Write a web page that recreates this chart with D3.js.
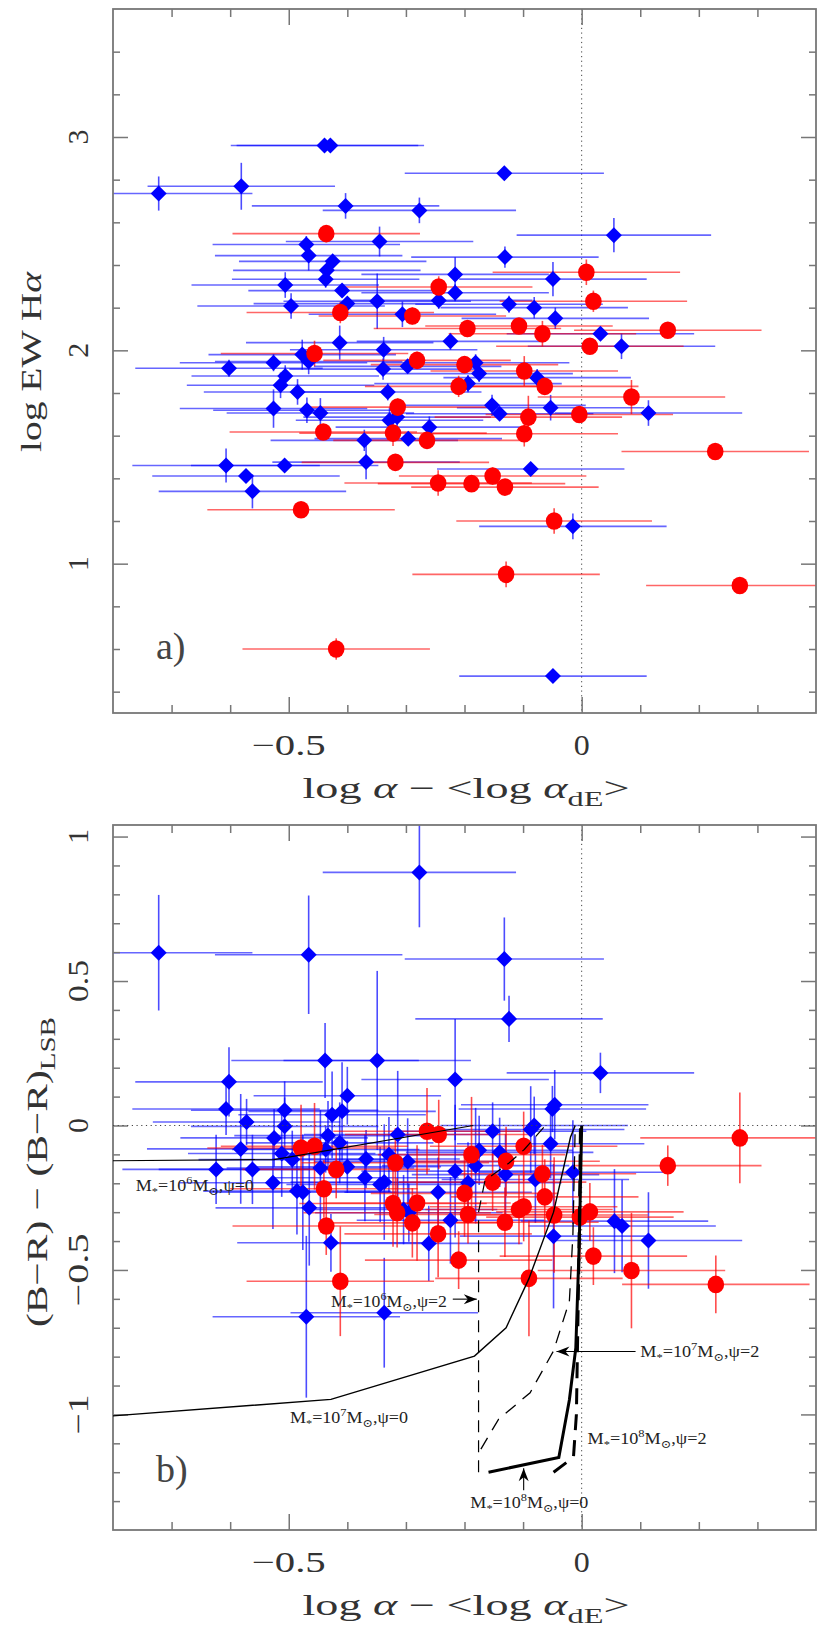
<!DOCTYPE html>
<html><head><meta charset="utf-8">
<script src="https://cdn.jsdelivr.net/npm/d3@7"></script>
<style>body{margin:0;background:#fff}</style>
</head><body><svg id="c" width="830" height="1639"></svg>
<script>
// ---------- DATA: [x, y, xerr, yerr] ----------
const topBlue = [
[-0.439,2.960,0.16,0.02],[-0.429,2.960,0.16,0.02],[-0.722,2.735,0.16,0.08],[-0.581,2.769,0.16,0.11],
[-0.403,2.677,0.16,0.06],[-0.277,2.656,0.165,0.06],[-0.132,2.830,0.17,0.03],[0.055,2.540,0.166,0.08],
[-0.131,2.437,0.16,0.05],[-0.345,2.510,0.16,0.07],[-0.470,2.496,0.16,0.04],[-0.466,2.444,0.16,0.07],
[-0.425,2.417,0.16,0.03],[-0.435,2.375,0.16,0.03],[-0.437,2.333,0.16,0.04],[-0.506,2.306,0.16,0.06],
[-0.409,2.280,0.16,0.03],[-0.496,2.208,0.16,0.06],[-0.400,2.219,0.16,0.03],[-0.349,2.230,0.16,0.13],
[-0.306,2.169,0.16,0.06],[-0.216,2.356,0.16,0.08],[-0.216,2.270,0.16,0.04],[-0.244,2.234,0.16,0.04],
[-0.224,2.042,0.16,0.04],[-0.413,2.036,0.16,0.08],[-0.477,1.980,0.16,0.07],[-0.466,1.948,0.16,0.06],
[-0.338,2.003,0.16,0.06],[-0.339,1.912,0.16,0.05],[-0.297,1.925,0.16,0.03],[-0.526,1.942,0.16,0.04],
[-0.602,1.916,0.16,0.04],[-0.506,1.880,0.16,0.05],[-0.514,1.836,0.16,0.06],[-0.485,1.805,0.16,0.06],
[-0.331,1.805,0.16,0.04],[-0.194,1.844,0.16,0.04],[-0.049,2.334,0.16,0.08],[-0.124,2.216,0.16,0.04],
[-0.081,2.200,0.16,0.05],[-0.045,2.150,0.16,0.05],[0.032,2.078,0.16,0.03],[0.068,2.019,0.16,0.06],
[-0.181,1.942,0.16,0.04],[-0.175,1.891,0.16,0.04],[-0.076,1.872,0.16,0.04],[-0.526,1.727,0.16,0.09],
[-0.469,1.719,0.16,0.06],[-0.446,1.706,0.16,0.07],[-0.328,1.672,0.16,0.06],[-0.315,1.687,0.16,0.05],
[-0.260,1.640,0.16,0.05],[-0.371,1.578,0.16,0.05],[-0.296,1.586,0.16,0.03],[-0.368,1.476,0.16,0.08],
[-0.607,1.460,0.16,0.08],[-0.507,1.460,0.16,0.02],[-0.573,1.411,0.16,0.03],[-0.562,1.339,0.16,0.08],
[-0.153,1.742,0.16,0.05],[-0.140,1.703,0.16,0.03],[-0.053,1.731,0.16,0.06],[0.114,1.706,0.16,0.06],
[-0.087,1.444,0.16,0.03],[-0.015,1.175,0.16,0.06],[-0.049,0.473,0.16,0.02]
];
const topRed = [
[-0.436,2.547,0.16,0.04],[-0.244,2.297,0.16,0.05],[-0.412,2.177,0.16,0.05],[-0.289,2.161,0.16,0.04],
[-0.195,2.102,0.16,0.04],[-0.456,1.985,0.16,0.06],[-0.281,1.953,0.16,0.04],[-0.200,1.933,0.16,0.03],
[-0.210,1.831,0.16,0.05],[0.008,2.366,0.16,0.06],[0.020,2.230,0.16,0.05],[-0.107,2.114,0.16,0.03],
[-0.067,2.078,0.16,0.06],[0.147,2.094,0.16,0.03],[0.014,2.019,0.16,0.03],[-0.098,1.903,0.16,0.07],
[-0.063,1.831,0.16,0.04],[0.085,1.781,0.16,0.08],[-0.314,1.734,0.16,0.04],[-0.441,1.617,0.16,0.03],
[-0.322,1.612,0.16,0.06],[-0.264,1.578,0.16,0.04],[-0.318,1.475,0.16,0.03],[-0.245,1.378,0.16,0.06],
[-0.188,1.375,0.16,0.03],[-0.479,1.253,0.16,0.03],[-0.419,0.600,0.16,0.05],[-0.091,1.687,0.16,0.10],
[-0.004,1.699,0.16,0.03],[-0.098,1.609,0.16,0.06],[0.228,1.526,0.16,0.03],[-0.152,1.411,0.16,0.04],
[-0.131,1.359,0.16,0.03],[-0.047,1.200,0.167,0.06],[-0.129,0.950,0.16,0.06],[0.270,0.898,0.16,0.04]
];
const botBlue = [
[-0.277,0.876,0.165,0.19],[-0.722,0.598,0.16,0.20],[-0.466,0.591,0.16,0.205],[-0.132,0.576,0.17,0.144],
[-0.124,0.369,0.16,0.08],[-0.438,0.225,0.16,0.13],[-0.349,0.225,0.16,0.31],[0.032,0.182,0.16,0.07],
[-0.216,0.159,0.16,0.21],[-0.602,0.151,0.16,0.12],[-0.400,0.103,0.16,0.10],[-0.607,0.057,0.16,0.09],
[-0.507,0.053,0.16,0.10],[-0.426,0.037,0.16,0.15],[-0.409,0.049,0.16,0.17],[-0.572,0.012,0.16,0.08],
[-0.507,-0.003,0.16,0.10],[-0.525,-0.043,0.16,0.10],[-0.433,-0.035,0.16,0.12],[-0.413,-0.060,0.16,0.14],
[-0.314,-0.031,0.16,0.22],[-0.582,-0.081,0.16,0.19],[-0.512,-0.097,0.16,0.15],[-0.494,-0.118,0.16,0.10],
[-0.437,-0.083,0.16,0.08],[-0.368,-0.116,0.16,0.10],[-0.329,-0.101,0.16,0.13],[-0.297,-0.125,0.16,0.15],
[-0.624,-0.152,0.16,0.12],[-0.562,-0.152,0.16,0.12],[-0.446,-0.147,0.16,0.20],[-0.400,-0.143,0.16,0.09],
[-0.370,-0.181,0.16,0.15],[-0.527,-0.198,0.16,0.16],[-0.486,-0.227,0.16,0.15],[-0.476,-0.231,0.16,0.20],
[-0.344,-0.204,0.16,0.13],[-0.337,-0.196,0.16,0.20],[-0.245,-0.231,0.16,0.12],[-0.216,-0.158,0.16,0.23],
[-0.194,-0.198,0.16,0.14],[-0.465,-0.285,0.16,0.20],[-0.304,-0.291,0.16,0.12],[-0.295,-0.302,0.16,0.10],
[-0.224,-0.328,0.16,0.15],[-0.428,-0.406,0.16,0.10],[-0.261,-0.408,0.16,0.13],[-0.470,-0.662,0.16,0.28],
[-0.337,-0.648,0.16,0.19],[-0.046,0.072,0.16,0.12],[-0.050,0.057,0.16,0.08],[-0.152,-0.020,0.16,0.10],
[-0.087,-0.014,0.16,0.15],[-0.081,0.000,0.16,0.10],[-0.053,-0.063,0.16,0.12],[-0.175,-0.086,0.16,0.12],
[-0.140,-0.093,0.16,0.12],[-0.181,-0.139,0.16,0.20],[-0.130,-0.170,0.16,0.14],[-0.079,-0.187,0.16,0.15],
[-0.015,-0.162,0.16,0.18],[0.056,-0.331,0.16,0.18],[0.069,-0.348,0.16,0.16],[0.114,-0.398,0.16,0.167],
[-0.048,-0.383,0.16,0.25]
];
const botRed = [
[0.270,-0.043,0.17,0.157],[0.147,-0.139,0.16,0.07],[-0.264,-0.020,0.16,0.15],[-0.244,-0.031,0.16,0.12],
[-0.479,-0.078,0.16,0.15],[-0.456,-0.072,0.16,0.15],[-0.188,-0.101,0.16,0.20],[-0.318,-0.129,0.16,0.12],
[-0.419,-0.152,0.16,0.10],[-0.440,-0.219,0.16,0.10],[-0.200,-0.235,0.16,0.15],[-0.322,-0.270,0.16,0.15],
[-0.281,-0.268,0.16,0.20],[-0.315,-0.302,0.16,0.12],[-0.289,-0.337,0.16,0.12],[-0.194,-0.308,0.16,0.10],
[-0.436,-0.348,0.16,0.10],[-0.245,-0.375,0.16,0.15],[-0.210,-0.466,0.16,0.10],[-0.412,-0.539,0.16,0.19],
[-0.099,-0.072,0.16,0.12],[-0.129,-0.124,0.16,0.12],[-0.067,-0.167,0.16,0.10],[-0.152,-0.196,0.16,0.10],
[-0.063,-0.247,0.16,0.13],[-0.099,-0.281,0.16,0.12],[-0.107,-0.291,0.16,0.12],[-0.047,-0.310,0.16,0.20],
[0.014,-0.299,0.16,0.10],[-0.003,-0.317,0.16,0.15],[-0.131,-0.335,0.16,0.12],[0.020,-0.452,0.16,0.10],
[0.085,-0.502,0.16,0.20],[-0.090,-0.529,0.16,0.20],[0.229,-0.550,0.16,0.10]
];
// model tracks (panel b)
const mod6psi0 = [[-0.8,-0.122],[-0.525,-0.118],[-0.185,0.0]];
const mod6psi2 = [[-0.176,-1.2],[-0.176,-0.30],[-0.165,-0.19],[-0.124,-0.13],[-0.098,-0.083],[-0.062,0.0]];
const mod7psi0 = [[-0.8,-1.005],[-0.428,-0.948],[-0.183,-0.798],[-0.129,-0.70],[-0.09,-0.53],[-0.048,-0.30],[-0.019,-0.04],[-0.011,0.0]];
const mod7psi2 = [[-0.172,-1.12],[-0.142,-1.017],[-0.088,-0.925],[-0.048,-0.78],[-0.021,-0.608],[-0.015,-0.38],[-0.011,0.0]];
const mod8psi0 = [[-0.159,-1.2],[-0.039,-1.149],[-0.021,-0.95],[-0.010,-0.77],[-0.004,-0.40],[0.0,0.0]];
const mod8psi2 = [[-0.048,-1.2],[-0.014,-1.148],[-0.009,-1.0],[-0.005,-0.5],[-0.002,0.0]];
// ticks
const xMajor = [-0.5, 0];
const xMinor = [-0.7,-0.6,-0.4,-0.3,-0.2,-0.1,0.1,0.2,0.3];
const yAMajor = [1,2,3];
const yAMinor = [0.4,0.6,0.8,1.2,1.4,1.6,1.8,2.2,2.4,2.6,2.8,3.2,3.4];
const yBMajor = [-1,-0.5,0,0.5,1];
const yBMinor = [-1.3,-1.2,-1.1,-0.9,-0.8,-0.7,-0.6,-0.4,-0.3,-0.2,-0.1,0.1,0.2,0.3,0.4,0.6,0.7,0.8,0.9];

// ---------- DRAW ----------
const svg = d3.select("#c");
const x = d3.scaleLinear().domain([-0.8,0.4]).range([113,816]);
const yA = d3.scaleLinear().domain([0.3,3.6]).range([713,9]);
const yB = d3.scaleLinear().domain([-1.4,1.04]).range([1530,825]);
const FONT = "'Liberation Serif','DejaVu Serif',serif";
const TXT = "#333";
const fmt = v => (v<0?"\u2212":"") + Math.abs(v);

function panel(y, yMaj, yMin, blue, red, tag){
  const g = svg.append("g");
  const [yb, yt] = y.range();
  const cp = "clip"+tag;
  svg.append("clipPath").attr("id",cp).append("rect")
    .attr("x",x.range()[0]).attr("y",yt).attr("width",x.range()[1]-x.range()[0]).attr("height",yb-yt);
  // dotted x=0
  g.append("line").attr("x1",x(0)).attr("x2",x(0)).attr("y1",yt).attr("y2",yb)
    .attr("stroke","#444").attr("stroke-width",1).attr("stroke-dasharray","1.2,3.5");
  const d = g.append("g").attr("clip-path",`url(#${cp})`);
  const bars = (data,col)=>{
    d.selectAll(null).data(data).enter().append("line")
      .attr("x1",p=>x(p[0]-p[2])).attr("x2",p=>x(p[0]+p[2])).attr("y1",p=>y(p[1])).attr("y2",p=>y(p[1]))
      .attr("stroke",col).attr("stroke-width",1.6).attr("stroke-opacity",0.6);
    d.selectAll(null).data(data).enter().append("line")
      .attr("x1",p=>x(p[0])).attr("x2",p=>x(p[0])).attr("y1",p=>y(p[1]-p[3])).attr("y2",p=>y(p[1]+p[3]))
      .attr("stroke",col).attr("stroke-width",1.6).attr("stroke-opacity",0.7);
  };
  bars(blue,"#0000ff"); bars(red,"#ff0000");
  const diamond = d3.symbol(d3.symbolSquare,128);
  d.selectAll(null).data(blue).enter().append("path").attr("d",diamond)
    .attr("transform",p=>`translate(${x(p[0])},${y(p[1])}) rotate(45)`).attr("fill","#0000ff");
  d.selectAll(null).data(red).enter().append("ellipse")
    .attr("cx",p=>x(p[0])).attr("cy",p=>y(p[1])).attr("rx",8.3).attr("ry",8.8).attr("fill","#ff0000");
  // frame + ticks
  const ax = svg.append("g").attr("stroke","#777");
  const tk = (gen, vals, len, tr)=>{
    const a = svg.append("g").attr("transform",tr).call(gen.tickValues(vals).tickSize(-len).tickFormat(""));
    a.select(".domain").remove();
    a.selectAll(".tick line").attr("stroke","#777").attr("stroke-width",1.5);
  };
  tk(d3.axisBottom(x), xMajor, 16, `translate(0,${yb})`);
  tk(d3.axisBottom(x), xMinor, 8, `translate(0,${yb})`);
  tk(d3.axisTop(x), xMajor, 16, `translate(0,${yt})`);
  tk(d3.axisTop(x), xMinor, 8, `translate(0,${yt})`);
  tk(d3.axisLeft(y), yMaj, 15, `translate(${x.range()[0]},0)`);
  tk(d3.axisLeft(y), yMin, 7, `translate(${x.range()[0]},0)`);
  tk(d3.axisRight(y), yMaj, 15, `translate(${x.range()[1]},0)`);
  tk(d3.axisRight(y), yMin, 7, `translate(${x.range()[1]},0)`);
  ax.append("rect").attr("x",x.range()[0]).attr("y",yt).attr("width",x.range()[1]-x.range()[0]).attr("height",yb-yt)
    .attr("fill","none").attr("stroke-width",1.8);
  // tick labels
  svg.append("g").selectAll(null).data(xMajor).enter().append("text")
    .attr("x",v=>x(v)).attr("y",yb+42).attr("text-anchor","middle")
    .attr("font-family",FONT).attr("font-size",29).attr("fill",TXT)
    .attr("textLength",v=>v===0?16:74).attr("lengthAdjust","spacingAndGlyphs").text(fmt);
  svg.append("g").selectAll(null).data(yMaj).enter().append("text")
    .attr("transform",v=>`translate(88,${y(v)}) rotate(-90)`).attr("text-anchor","middle")
    .attr("font-family",FONT).attr("font-size",29).attr("fill",TXT)
    .attr("textLength",v=>{const s=fmt(v);return s.length===1?15:(s.length===2?40:(s.length===3?42:73));})
    .attr("lengthAdjust","spacingAndGlyphs").text(fmt);
  // x title
  const t = svg.append("text").attr("x",466).attr("y",yb+85).attr("text-anchor","middle")
    .attr("font-family",FONT).attr("font-size",30).attr("fill",TXT)
    .attr("textLength",327).attr("lengthAdjust","spacingAndGlyphs");
  t.append("tspan").text("log ");
  t.append("tspan").attr("font-style","italic").text("α");
  t.append("tspan").text(" \u2212 <log ");
  t.append("tspan").attr("font-style","italic").text("α");
  t.append("tspan").attr("font-size",21).attr("dy",8).text("dE");
  t.append("tspan").attr("dy",-8).text(">");
  return g;
}

panel(yA, yAMajor, yAMinor, topBlue, topRed, "A");
const gB = panel(yB, yBMajor, yBMinor, botBlue, botRed, "B");

// dotted y=0 line in panel b
svg.append("line").attr("x1",x(-0.8)).attr("x2",x(0.4)).attr("y1",yB(0)).attr("y2",yB(0))
  .attr("stroke","#444").attr("stroke-width",1).attr("stroke-dasharray","1.2,3.5");

// y titles
const ta = svg.append("text").attr("transform",`translate(41,362) rotate(-90)`).attr("text-anchor","middle")
  .attr("font-family",FONT).attr("font-size",30).attr("fill",TXT)
  .attr("textLength",180).attr("lengthAdjust","spacingAndGlyphs");
ta.append("tspan").text("log EW H");
ta.append("tspan").attr("font-style","italic").text("α");
const tb = svg.append("text").attr("transform",`translate(47,1172) rotate(-90)`).attr("text-anchor","middle")
  .attr("font-family",FONT).attr("font-size",30).attr("fill",TXT)
  .attr("textLength",310).attr("lengthAdjust","spacingAndGlyphs");
tb.append("tspan").text("(B\u2212R) \u2212 (B\u2212R)");
tb.append("tspan").attr("font-size",21).attr("dy",8).text("LSB");

// panel letters
svg.append("text").attr("x",156).attr("y",yA(0.59)+8).attr("font-family",FONT).attr("font-size",38).attr("fill","#444").text("a)");
svg.append("text").attr("x",156).attr("y",yB(-1.205)+8).attr("font-family",FONT).attr("font-size",38).attr("fill","#444").text("b)");

// model tracks
const line = d3.line().x(p=>x(p[0])).y(p=>yB(p[1]));
const mg = svg.append("g").attr("fill","none").attr("stroke","#000");
mg.append("path").attr("d",line(mod6psi0)).attr("stroke-width",1.2);
mg.append("path").attr("d",line(mod6psi2)).attr("stroke-width",1.2).attr("stroke-dasharray","12,8");
mg.append("path").attr("d",line(mod7psi0)).attr("stroke-width",1.4);
mg.append("path").attr("d",line(mod7psi2)).attr("stroke-width",1.3).attr("stroke-dasharray","13,9");
mg.append("path").attr("d",line(mod8psi0)).attr("stroke-width",3);
mg.append("path").attr("d",line(mod8psi2)).attr("stroke-width",3).attr("stroke-dasharray","16,10");

// labels
function mlabel(xv, yv, e, psi, w){
  const t = svg.append("text").attr("x",x(xv)).attr("y",yB(yv)).attr("font-family",FONT)
    .attr("font-size",16).attr("fill","#222").attr("textLength",w).attr("lengthAdjust","spacingAndGlyphs");
  t.append("tspan").text("M");
  t.append("tspan").attr("font-size",11).attr("dy",4).text("*");
  t.append("tspan").attr("dy",-4).text("=10");
  t.append("tspan").attr("font-size",11).attr("dy",-7).text(e);
  t.append("tspan").attr("dy",7).text("M");
  t.append("tspan").attr("font-size",11).attr("dy",4).text("\u2299");
  t.append("tspan").attr("dy",-4).text(",ψ="+psi);
}
mlabel(-0.761,-0.227,"6","0",118);
mlabel(-0.428,-0.628,"6","2",116);
mlabel(-0.498,-1.029,"7","0",118);
mlabel(0.100,-0.800,"7","2",119);
mlabel(0.010,-1.102,"8","2",119);
mlabel(-0.190,-1.324,"8","0",118);

function arrow(x1,y1,x2,y2){
  const X1=x(x1),Y1=yB(y1),X2=x(x2),Y2=yB(y2);
  svg.append("line").attr("x1",X1).attr("y1",Y1).attr("x2",X2).attr("y2",Y2).attr("stroke","#000").attr("stroke-width",1.1);
  const ang = Math.atan2(Y2-Y1,X2-X1)*180/Math.PI;
  svg.append("path").attr("d","M0,0 L-13,-5 L-9,0 L-13,5 Z").attr("fill","#000")
    .attr("transform",`translate(${X2},${Y2}) rotate(${ang})`);
}
arrow(-0.220,-0.601,-0.179,-0.601);
arrow(0.092,-0.782,-0.043,-0.782);
arrow(-0.099,-1.262,-0.099,-1.186);
</script></body></html>
